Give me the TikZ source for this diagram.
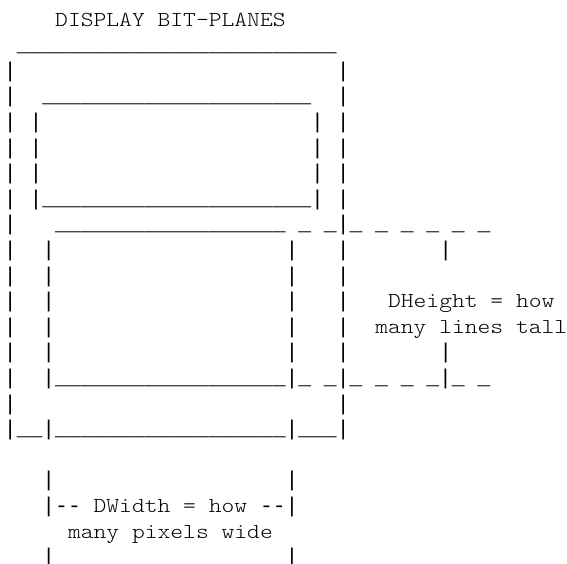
\documentclass[tikz,border=0pt]{standalone}
\usepackage{fontspec}
\newfontfamily\asciifont{Liberation Mono}[Ligatures=TeXOff]
\newfontfamily\wordfont{lmmonolt10-regular.otf}[FakeStretch=1.1429,Ligatures=TeXOff]
\ExplSyntaxOn
\cs_new:Npn \myrep #1#2 { \prg_replicate:nn {#1} {#2} }
\ExplSyntaxOff
\newcommand\spc[1]{\myrep{#1}{\ }}
\newcommand\und[1]{\myrep{#1}{\_}}
\newcommand\wrd[1]{{\wordfont\fontsize{21.333pt}{25.6pt}\selectfont #1}}
\tikzset{
  asciiline/.style={anchor=base west, inner sep=0pt, outer sep=0pt,
    font=\asciifont\fontsize{21.333pt}{25.6pt}\selectfont, text=black}
}
\begin{document}
\begin{tikzpicture}[x=1pt,y=-1pt]
\useasboundingbox (0,0) rectangle (567,563);
\def\xo{4}
\node[asciiline] (l0)  at (\xo,26.0)  {\spc{4}\wrd{DISPLAY BIT-PLANES}};
\node[asciiline] (l1)  at (\xo,51.6)  {\spc{1}\und{25}};
\node[asciiline] (l2)  at (\xo,77.2)  {|\spc{25}|};
\node[asciiline] (l3)  at (\xo,102.8) {|\spc{2}\und{21}\spc{2}|};
\node[asciiline] (l4)  at (\xo,128.4) {|\spc{1}|\spc{21}|\spc{1}|};
\node[asciiline] (l5)  at (\xo,154.0) {|\spc{1}|\spc{21}|\spc{1}|};
\node[asciiline] (l6)  at (\xo,179.6) {|\spc{1}|\spc{21}|\spc{1}|};
\node[asciiline] (l7)  at (\xo,205.2) {|\spc{1}|\und{21}|\spc{1}|};
\node[asciiline] (l8)  at (\xo,230.8) {|\spc{3}\und{18}\ \_\ \_|\_\ \_\ \_\ \_\ \_\ \_};
\node[asciiline] (l9)  at (\xo,256.4) {|\spc{2}|\spc{18}|\spc{3}|\spc{7}|};
\node[asciiline] (l10) at (\xo,282.0) {|\spc{2}|\spc{18}|\spc{3}|};
\node[asciiline] (l11) at (\xo,307.6) {|\spc{2}|\spc{18}|\spc{3}|\spc{3}\wrd{DHeight = how}};
\node[asciiline] (l12) at (\xo,333.2) {|\spc{2}|\spc{18}|\spc{3}|\spc{2}\wrd{many lines tall}};
\node[asciiline] (l13) at (\xo,358.8) {|\spc{2}|\spc{18}|\spc{3}|\spc{7}|};
\node[asciiline] (l14) at (\xo,384.4) {|\spc{2}|\und{18}|\_\ \_|\_\ \_\ \_\ \_|\_\ \_};
\node[asciiline] (l15) at (\xo,410.0) {|\spc{25}|};
\node[asciiline] (l16) at (\xo,435.6) {|\und{2}|\und{18}|\und{3}|};
\node[asciiline] (l18) at (\xo,486.8) {\spc{3}|\spc{18}|};
\node[asciiline] (l19) at (\xo,512.4) {\spc{3}|-{}-\ \wrd{DWidth = how}\ -{}-|};
\node[asciiline] (l20) at (\xo,538.0) {\spc{5}\wrd{many pixels wide}};
\node[asciiline] (l21) at (\xo,563.6) {\spc{3}|\spc{18}|};
\end{tikzpicture}
\end{document}
